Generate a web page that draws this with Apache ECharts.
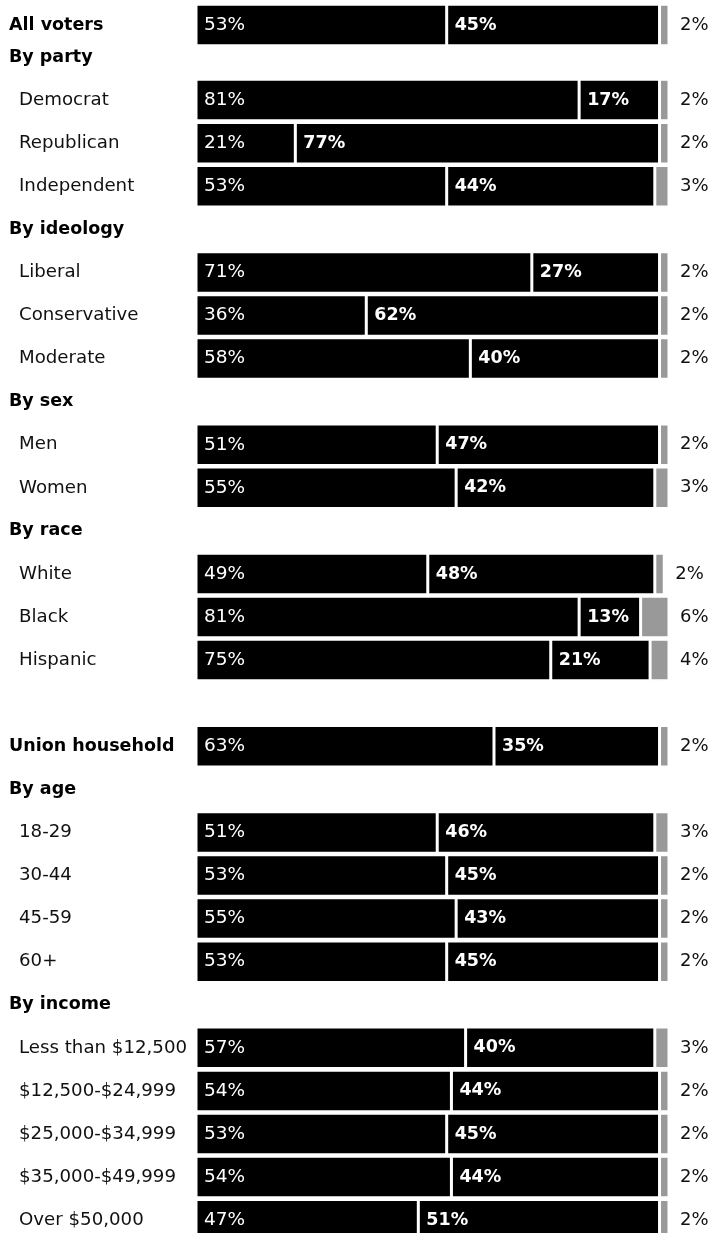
<!DOCTYPE html>
<html>
<head>
<meta charset="utf-8">
<script src="https://cdn.jsdelivr.net/npm/echarts@6/dist/echarts.min.js"></script>
<style>
  html, body { margin: 0; padding: 0; background: #fff; }
  #chart { width: 713px; height: 1233px; }
</style>
</head>
<body>
<div id="chart"></div>
<script>
// row labels, '' is the empty spacer row
var rows = ['All voters', 'By party', 'Democrat', 'Republican', 'Independent',
  'By ideology', 'Liberal', 'Conservative', 'Moderate',
  'By sex', 'Men', 'Women',
  'By race', 'White', 'Black', 'Hispanic', '',
  'Union household', 'By age', '18-29', '30-44', '45-59', '60+',
  'By income', 'Less than $12,500', '$12,500-$24,999', '$25,000-$34,999', '$35,000-$49,999', 'Over $50,000'];
var headers = ['All voters', 'By party', 'By ideology', 'By sex', 'By race', 'Union household', 'By age', 'By income'];

// share for first, second candidate and other (null = no bar)
var first = [53, null, 81, 21, 53, null, 71, 36, 58, null, 51, 55, null, 49, 81, 75, null,
  63, null, 51, 53, 55, 53, null, 57, 54, 53, 54, 47];
var second = [45, null, 17, 77, 44, null, 27, 62, 40, null, 47, 42, null, 48, 13, 21, null,
  35, null, 46, 45, 43, 45, null, 40, 44, 45, 44, 51];
var other = [2, null, 2, 2, 3, null, 2, 2, 2, null, 2, 3, null, 2, 6, 4, null,
  2, null, 3, 2, 2, 2, null, 3, 2, 2, 2, 2];

var font = "'DejaVu Sans', Verdana, sans-serif";
var chart = echarts.init(document.getElementById('chart'));

var pitch = 43.08;
var barW = 41.5;
// "All voters" sits a bit apart from the rest, so it gets its own grid.
// second grid: rows centred on ticks, first at y=57, last at bottom
var grids = [
  { left: 196, width: 473, top: 25 - pitch / 2, height: pitch },
  { left: 196, width: 473, top: 57, height: pitch * (rows.length - 2) }
];
var parts = [[0, 1], [1, rows.length]];

var xAxes = [], yAxes = [], series = [];
parts.forEach(function (p, g) {
  xAxes.push({ type: 'value', gridIndex: g, min: 0, max: 100, show: false });
  yAxes.push({
    type: 'category', gridIndex: g, inverse: true,
    boundaryGap: g === 0,
    data: rows.slice(p[0], p[1]),
    axisLine: { show: false },
    axisTick: { show: false },
    axisLabel: {
      align: 'left',
      margin: 187,
      formatter: function (v) {
        if (!v) return '';
        return headers.indexOf(v) >= 0 ? '{h|' + v + '}' : '{i|' + v + '}';
      },
      rich: {
        h: { fontFamily: font, fontSize: 17.5, fontWeight: 'bold', color: '#000' },
        i: { fontFamily: font, fontSize: 18.2, color: '#111', padding: [0, 0, 0, 10] }
      }
    }
  });
  series.push({
    type: 'bar', stack: 'v' + g, xAxisIndex: g, yAxisIndex: g,
    data: first.slice(p[0], p[1]), barWidth: barW,
    itemStyle: { color: '#000', borderColor: '#fff', borderWidth: 1.5 },
    label: { show: true, position: 'insideLeft', distance: 8, formatter: '{c}%',
      color: '#fff', fontSize: 18.5, fontFamily: font }
  }, {
    type: 'bar', stack: 'v' + g, xAxisIndex: g, yAxisIndex: g,
    data: second.slice(p[0], p[1]), barWidth: barW,
    itemStyle: { color: '#000', borderColor: '#fff', borderWidth: 1.5 },
    label: { show: true, position: 'insideLeft', distance: 8, formatter: '{c}%',
      color: '#fff', fontSize: 17.5, fontWeight: 'bold', fontFamily: font }
  }, {
    type: 'bar', stack: 'v' + g, xAxisIndex: g, yAxisIndex: g,
    data: other.slice(p[0], p[1]), barWidth: barW,
    itemStyle: { color: '#999', borderColor: '#fff', borderWidth: 1.5 },
    label: { show: true, position: 'right', distance: 11, formatter: '{c}%',
      color: '#111', fontSize: 18, fontFamily: font }
  });
});

chart.setOption({
  animation: false,
  textStyle: { fontFamily: font },
  grid: grids,
  xAxis: xAxes,
  yAxis: yAxes,
  series: series
});
</script>
</body>
</html>
